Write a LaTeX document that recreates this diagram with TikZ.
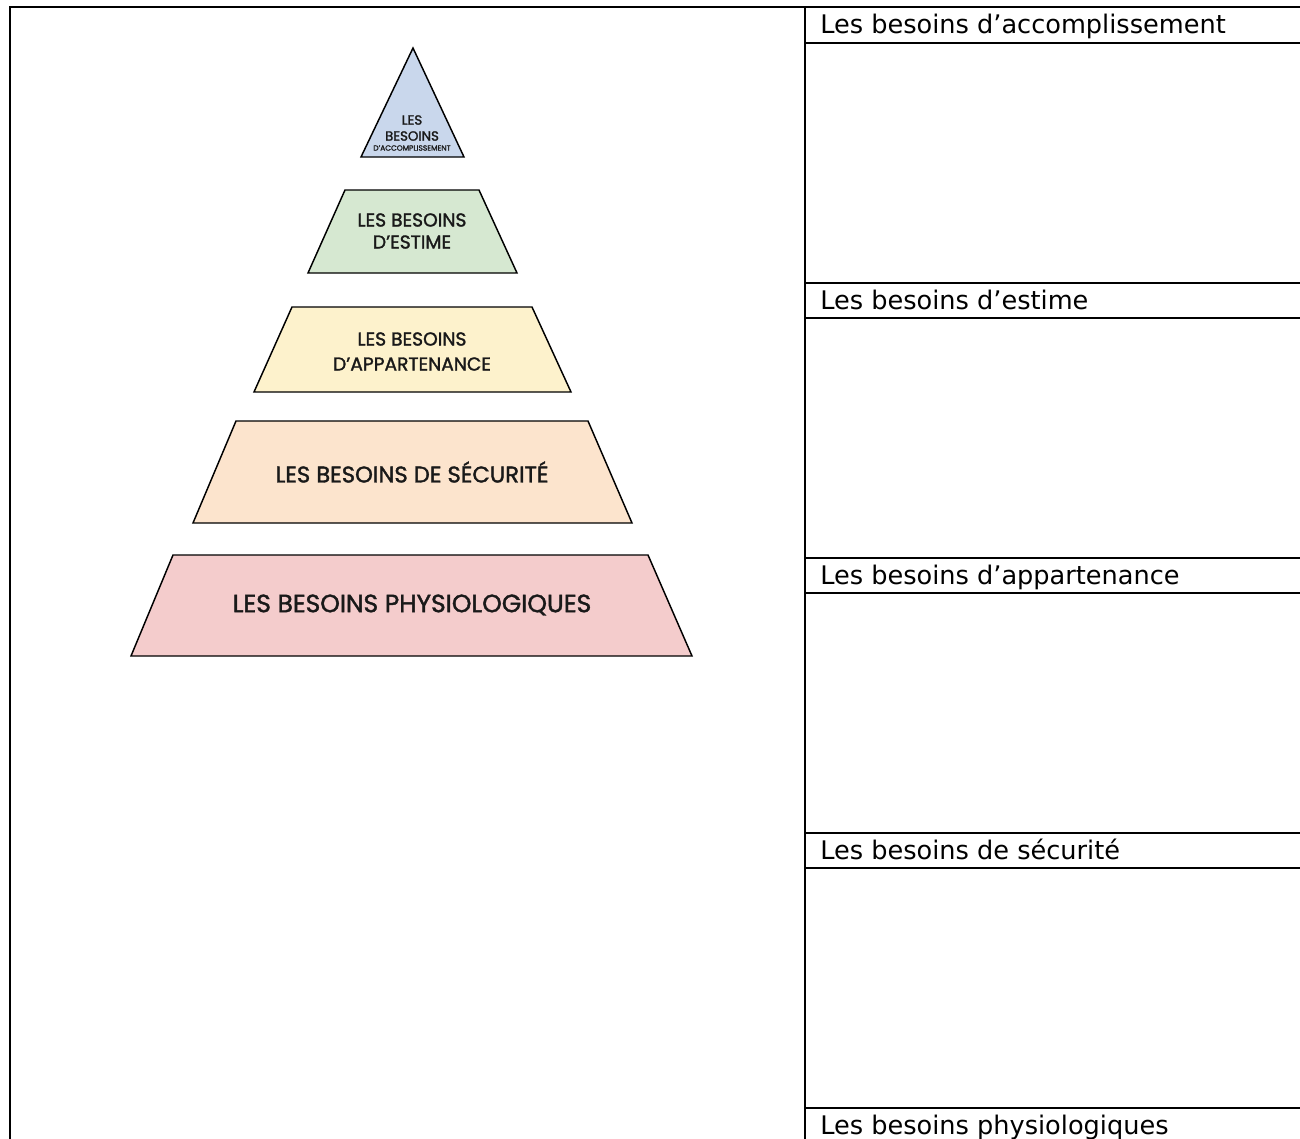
\documentclass[tikz,border=0pt]{standalone}
\usepackage{fontspec}
\setmainfont{DejaVu Sans}
\newfontfamily\pyrfont[FakeBold=1.6]{Poppins}
\definecolor{cblue}{RGB}{201,215,236}
\definecolor{cgreen}{RGB}{214,232,209}
\definecolor{cyellow}{RGB}{253,242,204}
\definecolor{cpeach}{RGB}{252,228,205}
\definecolor{cpink}{RGB}{244,204,204}
\newcommand{\pyrsize}[1]{\pyrfont\fontsize{#1}{#1}\selectfont}
\begin{document}
\begin{tikzpicture}[x=0.75pt,y=-0.75pt,
  level/.style={draw=black,line width=1.1pt,line join=miter},
  pyrtext/.style={font=\pyrsize{14},align=center,inner sep=0pt,text=black!90},
  rowtext/.style={anchor=base west,font=\fontsize{19.2}{22}\selectfont,inner sep=0pt},
  rule/.style={line width=1.5pt}]
\useasboundingbox (0,0) rectangle (1300,1139);
% table frame
\draw[line width=2.2pt] (10,7) -- (10,1139);
\draw[rule] (9,7) -- (1300,7);
\draw[line width=1.6pt] (805,7) -- (805,1139);
\foreach \y in {43,283,318,558,593,833,868,1108} \draw[rule] (805,\y) -- (1300,\y);
% row headers
\node[rowtext] (h1) at (820,33) {Les besoins d’accomplissement};
\node[rowtext] (h2) at (820,309) {Les besoins d’estime};
\node[rowtext] (h3) at (820,584) {Les besoins d’appartenance};
\node[rowtext] (h4) at (820,859) {Les besoins de sécurité};
\node[rowtext] (h5) at (820,1134) {Les besoins physiologiques};
% pyramid
\draw[level,fill=cblue] (413,48) -- (464,157) -- (361,157) -- cycle;
\draw[level,fill=cgreen] (345,190) -- (479,190) -- (517,273) -- (308,273) -- cycle;
\draw[level,fill=cyellow] (292,307) -- (532,307) -- (571,392) -- (254,392) -- cycle;
\draw[level,fill=cpeach] (236,421) -- (588,421) -- (632,523) -- (193,523) -- cycle;
\draw[level,fill=cpink] (173,555) -- (648,555) -- (692,656) -- (131,656) -- cycle;
\node[pyrtext,font=\pyrsize{10}] (t1a) at (412,120) {LES};
\node[pyrtext,font=\pyrsize{10}] (t1b) at (412,136) {BESOINS};
\node[pyrtext,font=\pyrsize{5.6}] (t1c) at (412,148) {D’ACCOMPLISSEMENT};
\node[pyrtext] (t2a) at (412,220) {LES BESOINS};
\node[pyrtext] (t2b) at (412,242) {D’ESTIME};
\node[pyrtext] (t3a) at (412,339) {LES BESOINS};
\node[pyrtext] (t3b) at (412,364) {D’APPARTENANCE};
\node[pyrtext,font=\pyrsize{17}] (t4) at (412,472) {LES BESOINS DE SÉCURITÉ};
\node[pyrtext,font=\pyrsize{18.7}] (t5) at (412,605) {LES BESOINS PHYSIOLOGIQUES};
\end{tikzpicture}
\end{document}
